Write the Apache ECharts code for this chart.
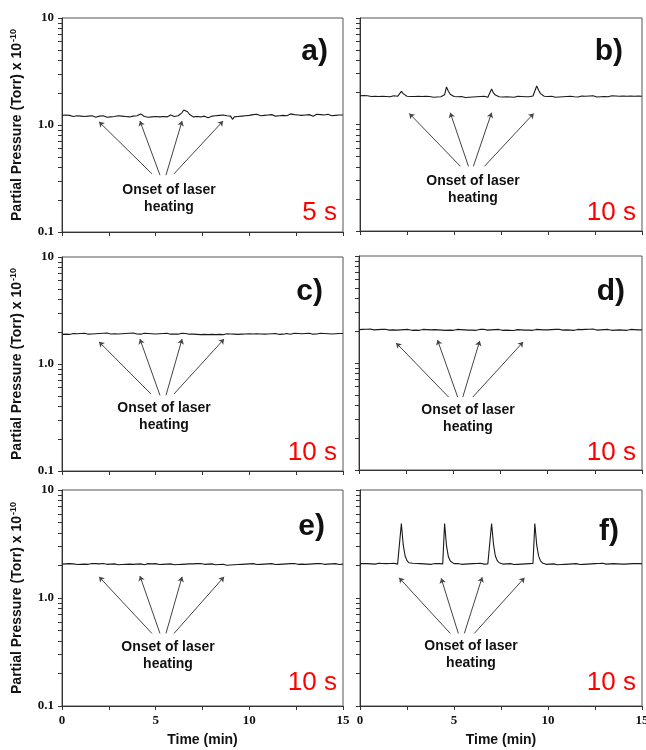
<!DOCTYPE html>
<html><head><meta charset="utf-8">
<script src="https://cdn.jsdelivr.net/npm/echarts@6/dist/echarts.min.js"></script>
<style>html,body{margin:0;padding:0;background:#fff}#c{width:646px;height:750px}</style>
</head><body><div id="c"></div>
<script>
// ---- data ----
const time = Array.from({length: 151}, (_, i) => i / 10); // minutes, 6 s sampling grid
const xTickValues = [0, 2.5, 5, 7.5, 10, 12.5, 15];
const yTickValues = [0.1,0.2,0.3,0.4,0.5,0.6,0.7,0.8,0.9,1,2,3,4,5,6,7,8,9,10];
const yLabelValues = [0.1, 1, 10];
const panelLetters = ['a)', 'b)', 'c)', 'd)', 'e)', 'f)'];
const durations = ['5 s', '10 s', '10 s', '10 s', '10 s', '10 s'];
const noteText = 'Onset of laser\nheating';

const seriesA = [
1.23,1.22,1.24,1.21,1.23,1.22,1.20,1.23,1.22,1.24,
1.21,1.22,1.20,1.23,1.21,1.19,1.22,1.20,1.18,1.16,
1.21,1.19,1.22,1.20,1.18,1.21,1.19,1.22,1.20,1.23,
1.22,1.24,1.21,1.23,1.20,1.22,1.19,1.15,1.21,1.20,
1.22,1.25,1.27,1.22,1.20,1.21,1.18,1.20,1.19,1.21,
1.20,1.22,1.19,1.21,1.20,1.22,1.19,1.21,1.24,1.22,
1.20,1.21,1.22,1.25,1.30,1.38,1.42,1.33,1.26,1.22,
1.19,1.18,1.20,1.17,1.19,1.18,1.21,1.19,1.17,1.20,
1.21,1.19,1.22,1.20,1.23,1.21,1.24,1.20,1.22,1.25,
1.21,1.13,1.19,1.22,1.20,1.23,1.21,1.24,1.22,1.25,
1.23,1.22,1.25,1.23,1.26,1.24,1.22,1.25,1.23,1.21,
1.24,1.22,1.25,1.23,1.21,1.24,1.22,1.26,1.23,1.25,
1.22,1.24,1.27,1.23,1.25,1.22,1.24,1.26,1.23,1.25,
1.24,1.22,1.25,1.23,1.21,1.24,1.26,1.23,1.25,1.22,
1.24,1.23,1.26,1.24,1.22,1.25,1.23,1.26,1.24,1.25,
1.24];
const seriesB = [
1.86,1.85,1.87,1.84,1.86,1.85,1.83,1.86,1.84,1.85,
1.83,1.85,1.84,1.86,1.83,1.85,1.82,1.84,1.86,1.83,
1.84,1.85,2.05,1.95,1.88,1.84,1.82,1.83,1.81,1.83,
1.82,1.84,1.81,1.83,1.82,1.84,1.81,1.83,1.82,1.80,
1.83,1.81,1.84,1.82,1.85,1.90,2.25,2.05,1.92,1.86,
1.83,1.81,1.82,1.80,1.83,1.81,1.79,1.82,1.80,1.83,
1.81,1.84,1.82,1.80,1.83,1.81,1.84,1.82,1.80,1.86,
2.15,1.98,1.89,1.85,1.82,1.84,1.81,1.83,1.82,1.84,
1.81,1.83,1.80,1.82,1.84,1.81,1.83,1.80,1.82,1.84,
1.82,1.83,1.85,1.88,2.30,2.10,1.95,1.88,1.84,1.82,
1.83,1.81,1.84,1.82,1.80,1.83,1.81,1.84,1.82,1.85,
1.83,1.81,1.84,1.86,1.82,1.84,1.81,1.83,1.85,1.82,
1.84,1.82,1.85,1.83,1.86,1.84,1.81,1.84,1.82,1.85,
1.83,1.85,1.82,1.84,1.86,1.83,1.85,1.82,1.84,1.83,
1.85,1.82,1.84,1.83,1.85,1.82,1.84,1.83,1.85,1.84,
1.84];
const seriesC = [
1.89,1.91,1.90,1.92,1.89,1.91,1.93,1.90,1.92,1.91,
1.93,1.91,1.94,1.92,1.90,1.93,1.91,1.94,1.92,1.90,
1.93,1.91,1.94,1.92,1.95,1.93,1.91,1.94,1.92,1.93,
1.91,1.94,1.92,1.90,1.93,1.91,1.94,1.92,1.95,1.93,
1.91,1.93,1.90,1.92,1.94,1.91,1.93,1.90,1.92,1.94,
1.91,1.89,1.92,1.90,1.93,1.91,1.94,1.92,1.90,1.93,
1.91,1.93,1.90,1.92,1.94,1.91,1.93,1.92,1.90,1.92,
1.90,1.92,1.89,1.91,1.88,1.90,1.89,1.91,1.88,1.90,
1.89,1.91,1.88,1.90,1.89,1.91,1.88,1.90,1.92,1.89,
1.91,1.89,1.90,1.92,1.89,1.91,1.90,1.88,1.91,1.89,
1.92,1.90,1.91,1.89,1.92,1.90,1.91,1.93,1.90,1.92,
1.91,1.89,1.92,1.90,1.93,1.91,1.89,1.92,1.90,1.91,
1.93,1.91,1.90,1.92,1.94,1.91,1.93,1.90,1.92,1.91,
1.93,1.91,1.94,1.92,1.90,1.93,1.91,1.92,1.94,1.91,
1.93,1.90,1.92,1.94,1.91,1.93,1.92,1.90,1.93,1.92,
1.93];
const seriesD = [
2.05,2.07,2.06,2.09,2.07,2.05,2.08,2.06,2.04,2.07,
2.05,2.03,2.06,2.04,2.07,2.05,2.03,2.06,2.04,2.05,
2.03,2.06,2.04,2.02,2.05,2.03,2.06,2.04,2.02,2.05,
2.03,2.05,2.02,2.04,2.06,2.03,2.05,2.02,2.04,2.03,
2.05,2.02,2.04,2.06,2.03,2.05,2.02,2.04,2.03,2.05,
2.02,2.04,2.06,2.03,2.05,2.02,2.04,2.01,2.03,2.05,
2.03,2.05,2.02,2.04,2.06,2.04,2.07,2.05,2.03,2.06,
2.04,2.07,2.05,2.03,2.06,2.04,2.02,2.05,2.03,2.05,
2.02,2.04,2.01,2.03,2.05,2.02,2.04,2.06,2.03,2.05,
2.03,2.05,2.02,2.04,2.06,2.03,2.05,2.07,2.04,2.06,
2.04,2.02,2.05,2.03,2.06,2.04,2.07,2.05,2.03,2.06,
2.04,2.06,2.03,2.05,2.02,2.04,2.06,2.03,2.05,2.04,
2.06,2.04,2.07,2.05,2.08,2.05,2.03,2.06,2.04,2.07,
2.05,2.03,2.06,2.04,2.02,2.05,2.03,2.06,2.04,2.05,
2.03,2.05,2.02,2.04,2.06,2.03,2.05,2.02,2.04,2.03,
2.04];
const seriesE = [
2.06,2.05,2.07,2.06,2.08,2.05,2.07,2.06,2.04,2.07,
2.05,2.07,2.06,2.08,2.05,2.07,2.09,2.06,2.08,2.05,
2.07,2.06,2.09,2.07,2.05,2.08,2.06,2.04,2.07,2.05,
2.03,2.06,2.04,2.07,2.05,2.03,2.06,2.04,2.05,2.03,
2.06,2.04,2.07,2.05,2.03,2.06,2.08,2.10,2.07,2.05,
2.08,2.06,2.04,2.07,2.05,2.03,2.06,2.04,2.07,2.05,
2.03,2.06,2.04,2.07,2.05,2.08,2.06,2.04,2.07,2.05,
2.07,2.05,2.08,2.06,2.09,2.07,2.05,2.08,2.06,2.04,
2.07,2.05,2.03,2.06,2.04,2.02,2.05,2.03,2.01,2.04,
2.02,2.05,2.03,2.06,2.04,2.07,2.05,2.03,2.06,2.04,
2.07,2.05,2.08,2.06,2.04,2.07,2.05,2.08,2.06,2.09,
2.07,2.05,2.08,2.06,2.04,2.07,2.05,2.08,2.06,2.04,
2.07,2.05,2.08,2.06,2.09,2.07,2.05,2.08,2.06,2.07,
2.05,2.08,2.06,2.04,2.07,2.05,2.08,2.06,2.09,2.07,
2.05,2.08,2.06,2.04,2.07,2.05,2.08,2.06,2.04,2.07,
2.06];
const seriesF = [
2.08,2.07,2.09,2.06,2.08,2.10,2.07,2.09,2.06,2.08,
2.10,2.07,2.09,2.11,2.08,2.06,2.09,2.07,2.10,2.08,
2.06,2.09,4.90,3.10,2.45,2.22,2.12,2.08,2.10,2.07,
2.09,2.06,2.08,2.10,2.07,2.09,2.06,2.08,2.05,2.07,
2.09,2.06,2.08,2.10,2.07,4.90,3.05,2.42,2.20,2.11,
2.08,2.06,2.09,2.07,2.05,2.08,2.06,2.09,2.07,2.05,
2.08,2.06,2.09,2.07,2.10,2.08,2.06,2.09,2.07,2.05,
4.90,3.15,2.45,2.22,2.12,2.08,2.06,2.09,2.07,2.05,
2.08,2.06,2.04,2.07,2.05,2.08,2.06,2.09,2.07,2.05,
2.08,2.06,2.09,4.90,3.10,2.44,2.21,2.11,2.07,2.05,
2.08,2.06,2.04,2.07,2.05,2.03,2.06,2.04,2.07,2.05,
2.08,2.06,2.09,2.07,2.05,2.08,2.06,2.04,2.07,2.05,
2.08,2.06,2.09,2.07,2.05,2.08,2.06,2.09,2.07,2.10,
2.08,2.06,2.09,2.07,2.05,2.08,2.11,2.07,2.09,2.06,
2.08,2.06,2.09,2.07,2.05,2.08,2.06,2.09,2.07,2.08,
2.07];
const panelSeries = [seriesA, seriesB, seriesC, seriesD, seriesE, seriesF];

// arrow annotations in data space: [tailTime, tailValue, headTime, headValue]
const arrowsA = [[4.80,0.35,1.98,1.07],[5.23,0.34,4.16,1.09],[5.55,0.34,6.41,1.09],[5.98,0.35,8.60,1.09]];
const arrowsB = [[5.34,0.405,2.62,1.27],[5.77,0.405,4.80,1.29],[6.03,0.405,7.00,1.29],[6.62,0.405,9.24,1.27]];
const arrowsC = [[4.75,0.525,1.98,1.61],[5.23,0.51,4.16,1.71],[5.55,0.51,6.41,1.71],[5.98,0.525,8.65,1.71]];
const arrowsD = [[4.75,0.48,1.97,1.54],[5.23,0.48,4.16,1.64],[5.50,0.48,6.40,1.61],[6.03,0.48,8.70,1.57]];
const arrowsE = [[4.80,0.47,1.98,1.57],[5.23,0.47,4.16,1.60],[5.55,0.47,6.41,1.57],[5.98,0.47,8.65,1.57]];
const arrowsF = [[4.80,0.47,2.08,1.54],[5.23,0.47,4.32,1.52],[5.55,0.47,6.50,1.56],[6.08,0.47,8.75,1.54]];
const panelArrows = [arrowsA, arrowsB, arrowsC, arrowsD, arrowsE, arrowsF];

// ---- layout / styles ----
const SANS = 'Liberation Sans, Arial, sans-serif';
const SERIF = 'Liberation Serif, Times New Roman, serif';
const grids = [
  {left: 62, top: 18, width: 281, height: 214},
  {left: 360, top: 18, width: 282, height: 213},
  {left: 62, top: 257, width: 281, height: 214},
  {left: 359, top: 256, width: 283, height: 214},
  {left: 62, top: 490, width: 281, height: 216},
  {left: 360, top: 490, width: 282, height: 216}
].map(g => Object.assign(g, {show: true, borderColor: '#555', borderWidth: 1, backgroundColor: 'transparent', outerBoundsMode: 'none', containLabel: false}));

const letterPos = [[328,52],[623,52],[323,292],[625,292],[325,527],[619,532]];
const durPos = [[337,213],[636,213],[337,453],[636,453],[337,683],[636,683]];
const notePos = [[169,191],[473,182],[164,409],[468,411],[168,648],[471,647]];

const xAxes = grids.map((g, i) => ({
  type: 'value', gridIndex: i, min: 0, max: 15, interval: 5,
  axisLine: {show: true, onZero: false, lineStyle: {color: '#333', width: 1}},
  axisTick: {show: true, inside: false, length: 4, customValues: xTickValues, lineStyle: {color: '#333'}},
  axisLabel: {show: i >= 4, margin: 8, fontFamily: SERIF, fontWeight: 'bold', fontSize: 13, color: '#111'},
  splitLine: {show: false},
  name: i >= 4 ? 'Time (min)' : '',
  nameLocation: 'middle', nameGap: 27,
  nameTextStyle: {fontFamily: SANS, fontWeight: 'bold', fontSize: 14, color: '#111'}
}));

const yAxes = grids.map((g, i) => ({
  type: 'log', logBase: 10, gridIndex: i, min: 0.1, max: 10,
  axisLine: {show: true, onZero: false, lineStyle: {color: '#333', width: 1}},
  axisTick: {show: true, inside: false, length: 4, customValues: yTickValues, lineStyle: {color: '#333'}},
  axisLabel: {show: i % 2 === 0, margin: 8, customValues: yLabelValues,
    fontFamily: SERIF, fontWeight: 'bold', fontSize: 13, color: '#111',
    formatter: v => (v > 5 ? '10' : v > 0.5 ? '1.0' : '0.1')},
  splitLine: {show: false},
  minorTick: {show: false},
  name: i % 2 === 0 ? '{t|Partial Pressure (Torr) x 10}{s|-10}' : '',
  nameLocation: 'middle', nameGap: 37, nameRotate: 90,
  nameTextStyle: {
    rich: {
      t: {fontFamily: SANS, fontWeight: 'bold', fontSize: 14, color: '#111', lineHeight: 16},
      s: {fontFamily: SANS, fontWeight: 'bold', fontSize: 9, color: '#111', lineHeight: 16, verticalAlign: 'top', padding: [0, 0, 8, 1]}
    }
  }
}));

const series = panelSeries.map((vals, i) => ({
  type: 'line', xAxisIndex: i, yAxisIndex: i,
  data: time.map((t, j) => [t, vals[j]]),
  symbol: 'none', showSymbol: false, animation: false,
  lineStyle: {color: '#1a1a1a', width: 1.1},
  emphasis: {disabled: true},
  markLine: {
    silent: true, animation: false, symbol: ['none', 'arrow'], symbolSize: 5,
    label: {show: false},
    lineStyle: {color: '#444', width: 1, type: 'solid'},
    emphasis: {disabled: true},
    data: panelArrows[i].map(a => [{coord: [a[0], a[1]]}, {coord: [a[2], a[3]]}])
  }
}));

const graphic = [];
panelLetters.forEach((txt, i) => {
  graphic.push({type: 'text', x: letterPos[i][0], y: letterPos[i][1], silent: true,
    style: {text: txt, font: 'bold 30px ' + SANS, fill: '#111', align: 'right', verticalAlign: 'middle'}});
  graphic.push({type: 'text', x: durPos[i][0], y: durPos[i][1], silent: true,
    style: {text: durations[i], font: '26px ' + SANS, fill: '#ff0000', align: 'right', verticalAlign: 'middle'}});
  graphic.push({type: 'text', x: notePos[i][0], y: notePos[i][1] - 9, silent: true,
    style: {text: noteText, font: 'bold 14px ' + SANS, lineHeight: 17, fill: '#111', align: 'center', verticalAlign: 'top'}});
});

const chart = echarts.init(document.getElementById('c'), null, {renderer: 'canvas'});
chart.setOption({
  animation: false,
  backgroundColor: '#fff',
  textStyle: {fontFamily: SANS},
  grid: grids, xAxis: xAxes, yAxis: yAxes, series: series, graphic: graphic
});
</script>
</body></html>
